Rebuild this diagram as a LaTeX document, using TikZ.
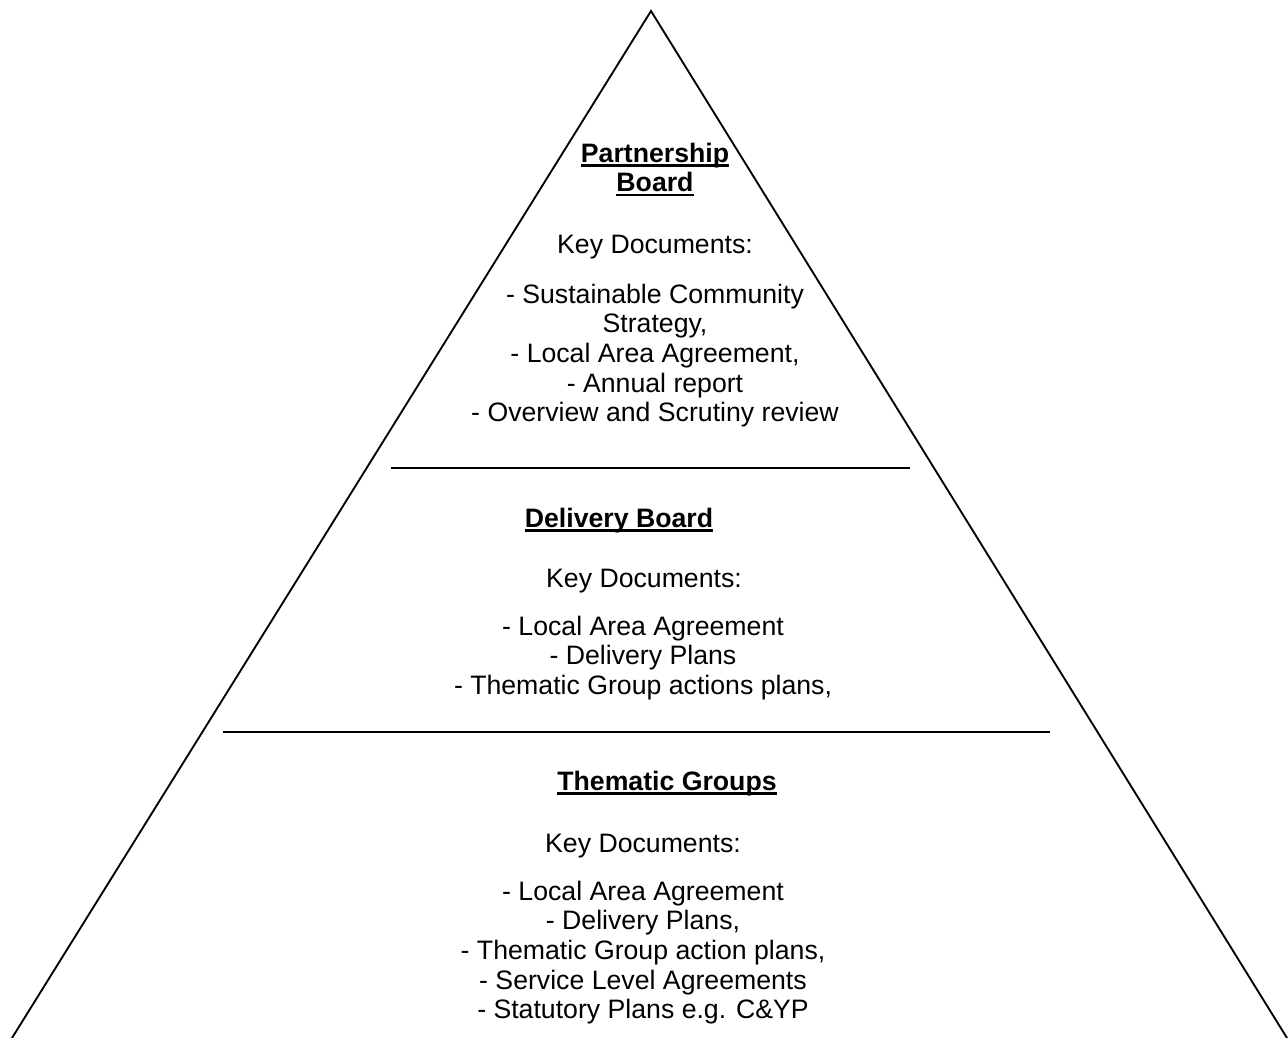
\documentclass[tikz,border=0pt]{standalone}
\usepackage{fontspec}
\setmainfont{Liberation Sans}
\newcommand{\ulbold}[1]{\setbox0\hbox{\bfseries #1}\rlap{\rule[-3.4pt]{\wd0}{1.6pt}}\box0}
\newcommand{\lines}[1]{\begin{tabular}[t]{@{}c@{}}#1\end{tabular}}
\begin{document}
\begin{tikzpicture}[x=0.75pt,y=-0.75pt,line width=1.4pt,
  every node/.style={inner sep=0pt,anchor=base,font=\fontsize{20}{22.3}\selectfont}]
  \useasboundingbox (0,0) rectangle (1288,1038);

  % pyramid sides
  \coordinate (apex) at (651,11);
  \coordinate (bl) at (12,1038);
  \coordinate (br) at (1287,1038);
  \draw (bl) -- (apex) -- (br);

  % Partnership Board
  \node (pbtitle) at (655,162) {\lines{\ulbold{Partnership}\\\ulbold{Board}}};
  \node (pbkey) at (655,253) {Key Documents:};
  \node (pblist) at (655,303) {\lines{- Sustainable Community\\Strategy,\\- Local Area Agreement,\\- Annual report\\- Overview and Scrutiny review}};

  % divider
  \coordinate (d1l) at (391,468);
  \coordinate (d1r) at (910,468);
  \draw (d1l) -- (d1r);

  % Delivery Board
  \node (dbtitle) at (619,527) {\ulbold{Delivery Board}};
  \node (dbkey) at (644,587) {Key Documents:};
  \node (dblist) at (643,635) {\lines{- Local Area Agreement\\- Delivery Plans\\- Thematic Group actions plans,}};

  % divider
  \coordinate (d2l) at (223,732);
  \coordinate (d2r) at (1050,732);
  \draw (d2l) -- (d2r);

  % Thematic Groups
  \node (tgtitle) at (667,790) {\ulbold{Thematic Groups}};
  \node (tgkey) at (643,852) {Key Documents:};
  \node (tglist) at (643,900) {\lines{- Local Area Agreement\\- Delivery Plans,\\- Thematic Group action plans,\\- Service Level Agreements\\- Statutory Plans e.g. C\&YP}};
\end{tikzpicture}
\end{document}
